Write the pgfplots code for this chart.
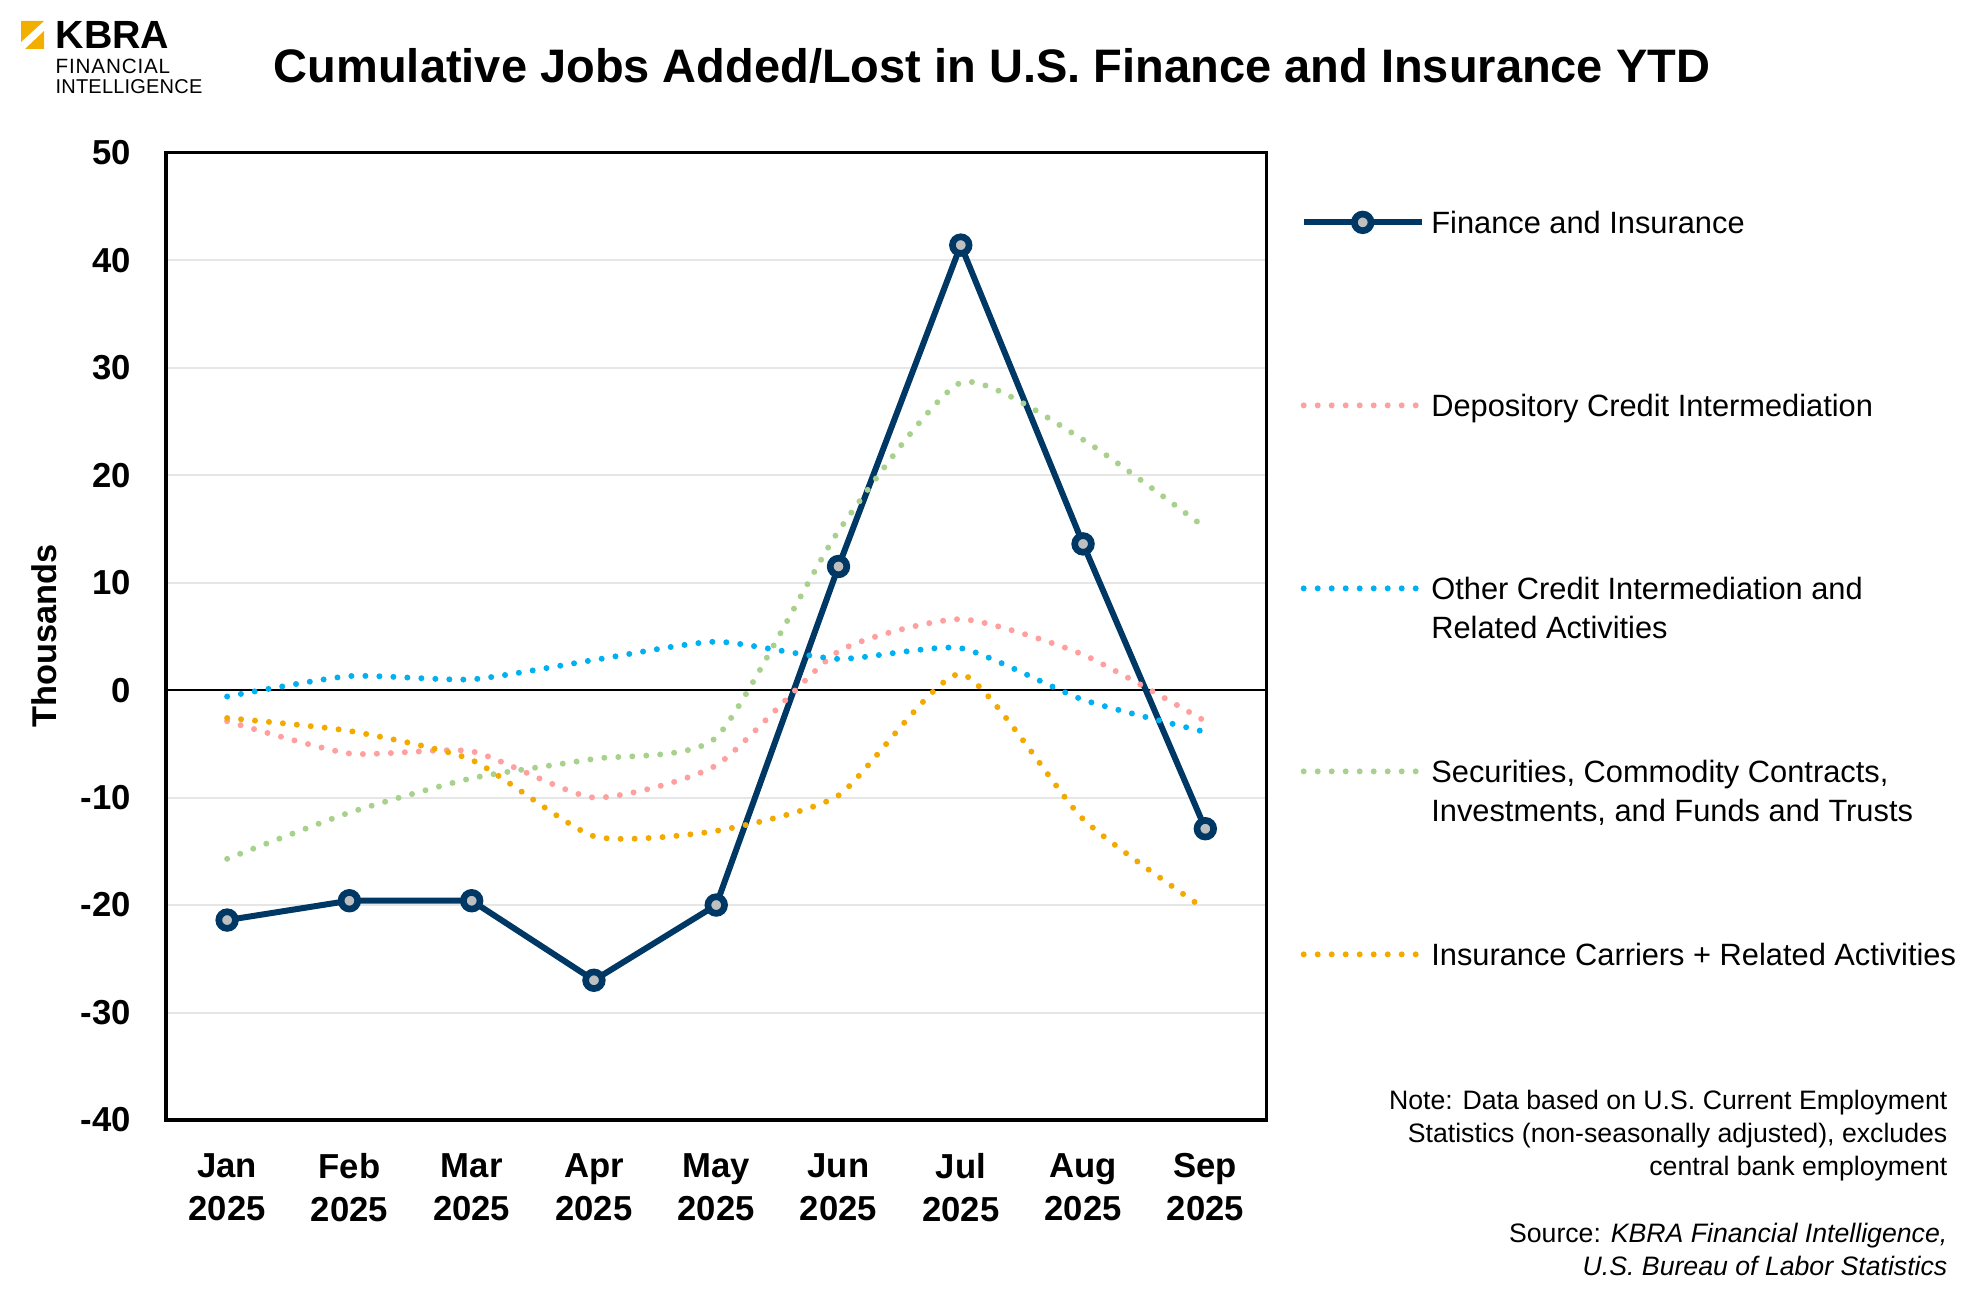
\documentclass[border=0pt]{standalone}
\usepackage{pgfplots}
\pgfplotsset{compat=1.18}
\usepackage{fontspec}
\setmainfont{Liberation Sans}

\definecolor{navy}{RGB}{0,56,101}
\definecolor{pinkdep}{RGB}{255,160,160}
\definecolor{bluecred}{RGB}{0,176,240}
\definecolor{greensec}{RGB}{169,209,142}
\definecolor{goldins}{RGB}{242,169,0}
\definecolor{markgray}{RGB}{191,191,191}
\definecolor{gridgray}{RGB}{230,230,230}
\definecolor{kbragold}{RGB}{242,175,0}

\pgfplotsset{
  dotline/.style={smooth, tension=0.35, no markers, line width=1.8pt, line cap=round, dash pattern=on 0pt off 4.2pt},
}

\begin{document}
\begin{tikzpicture}
\useasboundingbox (0,0) rectangle (595.5pt,-392.7pt);

% logo and title
\fill[kbragold] (6.3pt,-6.3pt) -- (13.2pt,-6.3pt) -- (6.3pt,-12.6pt) -- cycle;
\fill[kbragold] (7.5pt,-14.7pt) -- (13.2pt,-14.7pt) -- (13.2pt,-9.3pt) -- cycle;
\node[anchor=base west, inner sep=0pt, font=\fontsize{11.8}{12}\selectfont\bfseries] at (16.5pt,-14.7pt) {KBRA};
\node[anchor=base west, inner sep=0pt, font=\fontsize{6.2}{7}\selectfont\addfontfeatures{LetterSpace=4}] at (16.5pt,-22.2pt) {FINANCIAL};
\node[anchor=base west, inner sep=0pt, font=\fontsize{6.0}{7}\selectfont\addfontfeatures{LetterSpace=1}] at (16.5pt,-28.2pt) {INTELLIGENCE};
\node[inner sep=0pt, font=\fontsize{14.1}{16}\selectfont\bfseries] at (297.6pt,-19.8pt)
  {Cumulative Jobs Added/Lost in U.S. Finance and Insurance YTD};

\begin{axis}[
  at={(49.8pt,-336pt)}, anchor=south west,
  scale only axis, width=330.15pt, height=290.2pt,
  xmin=-0.5, xmax=8.5, ymin=-40, ymax=50,
  xtick={0,...,8},
  xticklabels={{Jan\\2025},{Feb\\2025},{Mar\\2025},{Apr\\2025},{May\\2025},{Jun\\2025},{Jul\\2025},{Aug\\2025},{Sep\\2025}},
  ytick={-40,-30,...,50},
  yticklabels={-40,-30,-20,-10,0,10,20,30,40,50},
  major tick length=0pt,
  ymajorgrids, grid style={gridgray, line width=0.6pt},
  extra y ticks={0}, extra y tick labels={},
  extra y tick style={ymajorgrids=true, major grid style={black, line width=0.8pt}},
  axis line style={black, line width=1pt},
  tick label style={font=\fontsize{10.4}{12.9}\selectfont\bfseries},
  xticklabel style={align=center, yshift=-6.5pt},
  yticklabel style={xshift=-7pt},
  ylabel={Thousands},
  every axis y label/.style={at={(axis description cs:-0.1109,0.5)}, rotate=90, anchor=center,
    font=\fontsize{10.3}{12}\selectfont\bfseries},
  legend image code/.code={\draw[#1, mark repeat=2, mark phase=2] plot coordinates {(0pt,3.3pt) (17.7pt,3.3pt) (35.4pt,3.3pt)};},
  legend style={at={(axis description cs:1.0305,0.9414)}, anchor=north west, draw=none, fill=none,
    inner sep=0pt, row sep=0pt, column sep=2pt, font=\fontsize{9.24}{11.7}\selectfont,
    cells={anchor=base west}, nodes={inner sep=0pt, text height=7pt, text depth=47.9pt}},
]

\addplot[navy, line width=1.8pt, mark=*, mark size=2.5pt, mark options={fill=markgray, draw=navy, line width=2pt}]
  coordinates {(0,-21.4) (1,-19.6) (2,-19.6) (3,-27.0) (4,-20.0) (5,11.5) (6,41.4) (7,13.6) (8,-12.9)};
\addlegendentry{Finance and Insurance}

\addplot[dotline, pinkdep]
  coordinates {(0,-2.9) (1,-5.9) (2,-5.7) (3,-10.0) (4,-7.0) (5,3.6) (6,6.6) (7,3.3) (8,-2.9)};
\addlegendentry{Depository Credit Intermediation}

\addplot[dotline, bluecred]
  coordinates {(0,-0.6) (1,1.3) (2,1.0) (3,2.8) (4,4.5) (5,2.9) (6,3.9) (7,-0.9) (8,-3.9)};
\addlegendentry{\begin{tabular}[t]{@{}l@{}}Other Credit Intermediation and\\Related Activities\end{tabular}}

\addplot[dotline, greensec]
  coordinates {(0,-15.7) (1,-11.4) (2,-8.2) (3,-6.4) (4,-4.4) (5,14.8) (6,28.6) (7,23.3) (8,15.1)};
\addlegendentry{\begin{tabular}[t]{@{}l@{}}Securities, Commodity Contracts,\\Investments, and Funds and Trusts\end{tabular}}

\addplot[dotline, goldins]
  coordinates {(0,-2.6) (1,-3.8) (2,-6.5) (3,-13.6) (4,-13.1) (5,-9.8) (6,1.5) (7,-12.0) (8,-20.4)};
\addlegendentry{Insurance Carriers + Related Activities}

\end{axis}

\node[anchor=base east, inner sep=0pt, font=\fontsize{8}{9.9}\selectfont] at (584.4pt,-333pt)
  {\begin{tabular}[t]{@{}r@{}}Note: Data based on U.S. Current Employment\\
   Statistics (non-seasonally adjusted), excludes\\
   central bank employment\\[10.2pt]
   Source: \textit{KBRA Financial Intelligence,}\\
   \textit{U.S. Bureau of Labor Statistics}\end{tabular}};
\end{tikzpicture}
\end{document}
